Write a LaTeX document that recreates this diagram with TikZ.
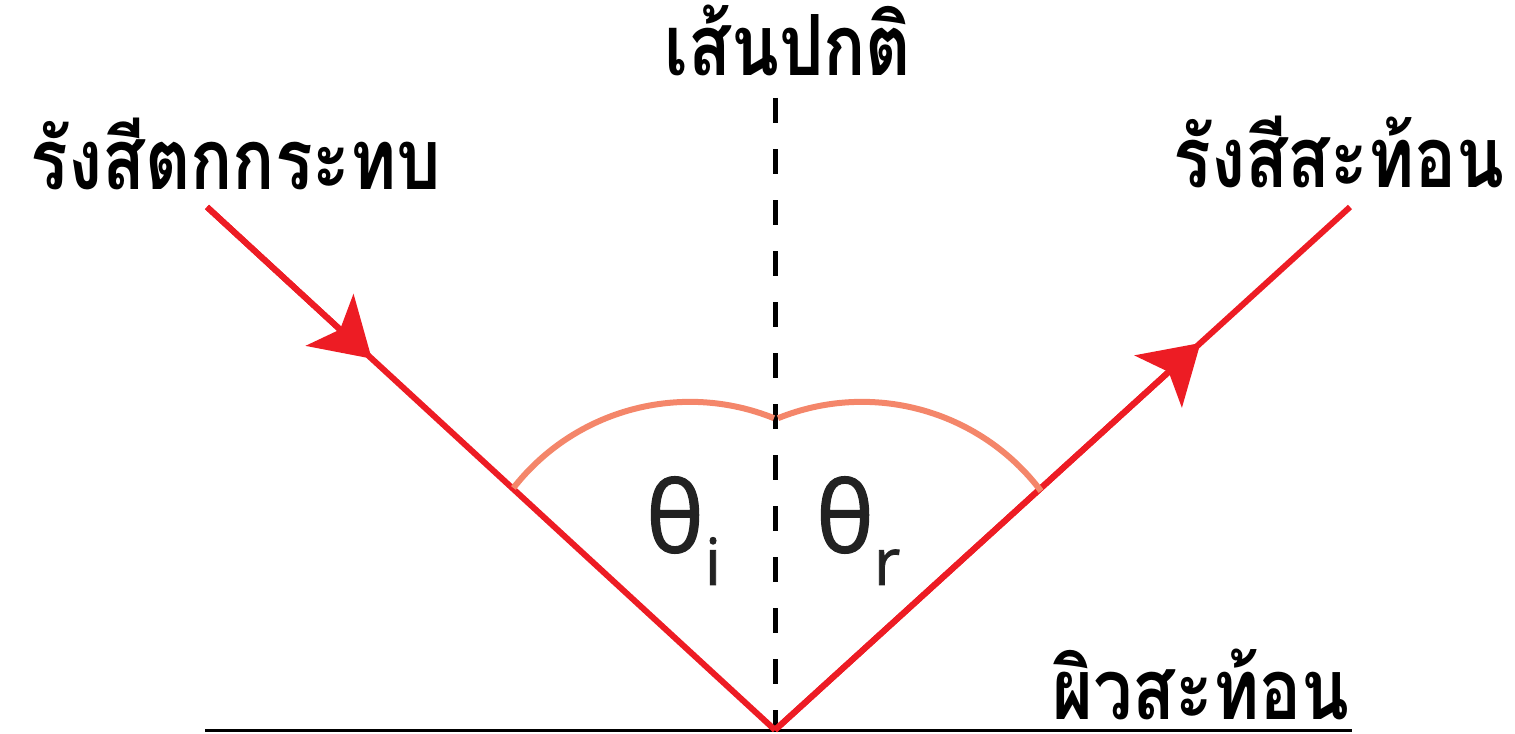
\documentclass[tikz,border=0pt]{standalone}
\usepackage{fontspec}
\newfontfamily\thaifont[Script=Thai]{Loma}
\newfontfamily\thetafont[FakeBold=1.2]{Open Sans}
\usetikzlibrary{arrows.meta,calc}
\definecolor{rayred}{HTML}{ED1C24}
\definecolor{arcsalmon}{HTML}{F4866A}
\definecolor{thetagray}{HTML}{222222}
\newcommand\narrowthai[1]{\scalebox{0.83}[1]{#1}}
\begin{document}
\begin{tikzpicture}[x=0.01cm,y=-0.01cm,
  ray/.style={draw=rayred, line width=0.06cm},
  raytip/.style={draw=rayred, fill=rayred, line width=0.06cm, -{Stealth[length=0.57cm,width=0.70cm,inset=0.14cm]}},
  normalline/.style={draw=black, line width=0.05cm, dash pattern=on 0.25cm off 0.26cm},
  anglearc/.style={draw=arcsalmon, line width=0.06cm},
  surface/.style={draw=black, line width=0.03cm},
  thailabel/.style={font=\thaifont\bfseries\fontsize{24}{28}\selectfont, inner sep=0pt, text depth=0pt, anchor=base},
  thetalabel/.style={font=\thetafont\fontsize{28}{32}\selectfont, text=thetagray, inner sep=0pt},
  sublabel/.style={font=\thetafont\fontsize{18.5}{22}\selectfont, text=thetagray, inner sep=0pt, anchor=base}]
\useasboundingbox (0,0) rectangle (1515,734);
\coordinate (O) at (775,730);
\coordinate (inc) at (207,207);
\coordinate (ref) at (1350,207);
\coordinate (ntop) at (775,98);
\coordinate (sL) at (205,731);
\coordinate (sR) at (1352,731);
\coordinate (cL) at (690,626);
\coordinate (cR) at (862,626);
% surface
\draw[surface] (sL) -- (sR);
% normal
\draw[normalline] (ntop) -- (O);
% rays
\draw[ray] (inc) -- (O);
\draw[ray] (O) -- (ref);
\draw[raytip] (inc) -- ($(inc)!0.29!(O)$);
\draw[raytip] (O) -- ($(O)!0.74!(ref)$);
% angle arcs
\draw[anglearc] (cL) ++(142:2.24cm) arc[start angle=142, end angle=68, radius=2.24cm];
\draw[anglearc] (cR) ++(112:2.24cm) arc[start angle=112, end angle=37, radius=2.24cm];
% labels
\node[thailabel] (lnormal) at (788,76) {\narrowthai{เส้นปกติ}};
\node[thailabel] (linc) at (236,190) {\narrowthai{รังสีตกกระทบ}};
\node[thailabel] (lref) at (1339,188) {\narrowthai{รังสีสะท้อน}};
\node[thailabel] (lsurf) at (1201,720) {\narrowthai{ผิวสะท้อน}};
\node[thetalabel] (thi) at (675,515) {θ};
\node[sublabel] (subi) at (713,585) {i};
\node[thetalabel] (thr) at (845,515) {θ};
\node[sublabel] (subr) at (887,585) {r};
\end{tikzpicture}
\end{document}
